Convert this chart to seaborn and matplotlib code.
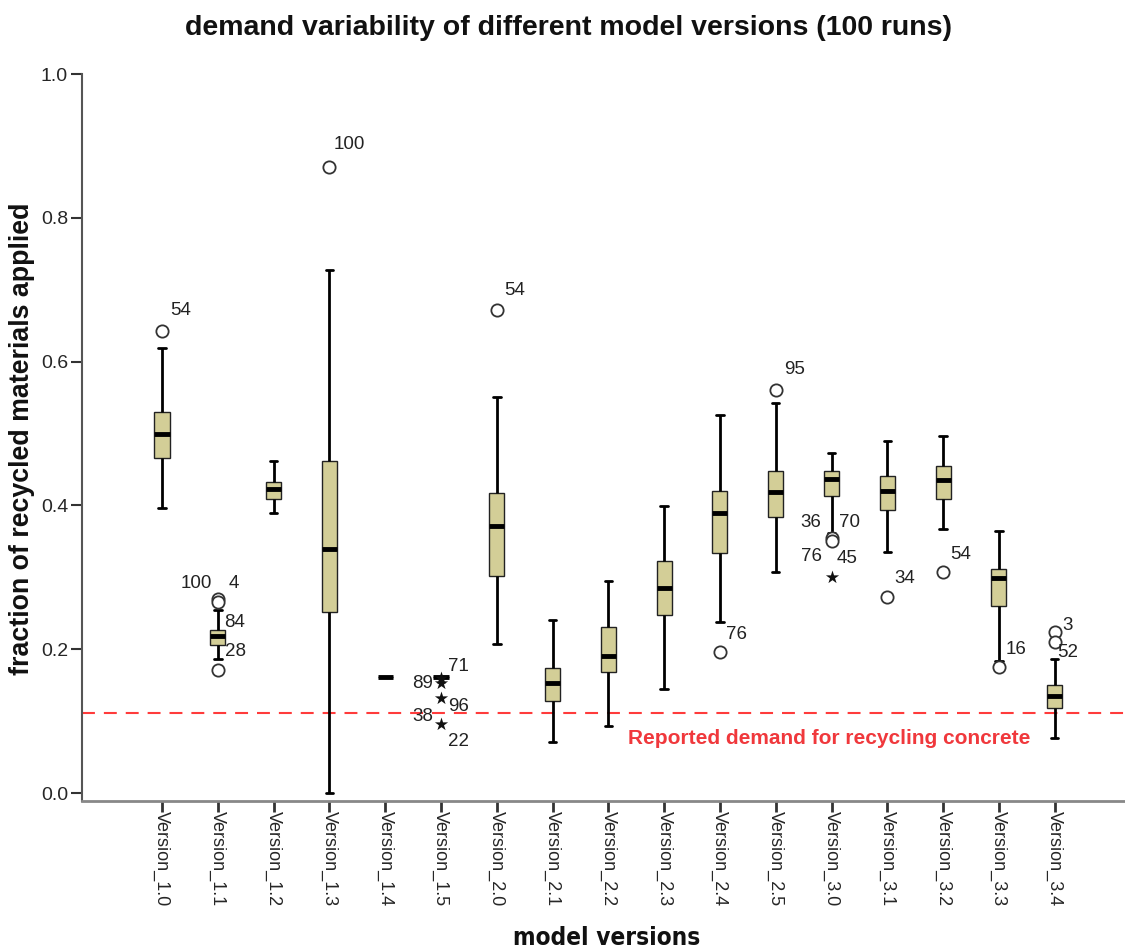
import numpy as np
import pandas as pd
import matplotlib
matplotlib.use("Agg")
import matplotlib.pyplot as plt
import seaborn as sns

# ---------------- data ----------------
versions = ["Version_1.0", "Version_1.1", "Version_1.2", "Version_1.3", "Version_1.4",
            "Version_1.5", "Version_2.0", "Version_2.1", "Version_2.2", "Version_2.3",
            "Version_2.4", "Version_2.5", "Version_3.0", "Version_3.1", "Version_3.2",
            "Version_3.3", "Version_3.4"]
whisker_low  = [0.396, 0.186, 0.389, 0.000, 0.161, 0.161, 0.207, 0.071, 0.093, 0.145,
                0.238, 0.307, 0.362, 0.335, 0.367, 0.184, 0.076]
q1           = [0.466, 0.206, 0.409, 0.252, 0.161, 0.161, 0.302, 0.128, 0.168, 0.248,
                0.334, 0.384, 0.413, 0.394, 0.409, 0.260, 0.118]
median       = [0.499, 0.218, 0.423, 0.339, 0.161, 0.161, 0.371, 0.153, 0.191, 0.285,
                0.389, 0.418, 0.437, 0.420, 0.435, 0.299, 0.135]
q3           = [0.530, 0.227, 0.433, 0.462, 0.161, 0.161, 0.417, 0.174, 0.231, 0.323,
                0.420, 0.448, 0.448, 0.441, 0.455, 0.312, 0.150]
whisker_high = [0.619, 0.255, 0.462, 0.727, 0.161, 0.161, 0.551, 0.241, 0.295, 0.399,
                0.526, 0.543, 0.473, 0.490, 0.497, 0.364, 0.186]

# outliers: "o" = outlier, "*" = extreme value
outlier_version = ["Version_1.0", "Version_1.1", "Version_1.1", "Version_1.1", "Version_1.3",
                   "Version_1.5", "Version_1.5", "Version_1.5", "Version_1.5",
                   "Version_2.0", "Version_2.4", "Version_2.5",
                   "Version_3.0", "Version_3.0", "Version_3.0",
                   "Version_3.1", "Version_3.2", "Version_3.3", "Version_3.4", "Version_3.4"]
outlier_value = [0.643, 0.270, 0.265, 0.171, 0.871,
                 0.160, 0.153, 0.132, 0.096,
                 0.672, 0.196, 0.561,
                 0.355, 0.350, 0.300,
                 0.273, 0.307, 0.175, 0.224, 0.210]
outlier_kind = ["o", "o", "o", "o", "o",
                "*", "*", "*", "*",
                "o", "o", "o",
                "o", "o", "*",
                "o", "o", "o", "o", "o"]

# case labels of the outliers
label_version = ["Version_1.0", "Version_1.1", "Version_1.1", "Version_1.1", "Version_1.1",
                 "Version_1.3", "Version_1.5", "Version_1.5", "Version_1.5", "Version_1.5",
                 "Version_1.5", "Version_2.0", "Version_2.4", "Version_2.5",
                 "Version_3.0", "Version_3.0", "Version_3.0", "Version_3.0",
                 "Version_3.1", "Version_3.2", "Version_3.3", "Version_3.4", "Version_3.4"]
label_value = [0.643, 0.270, 0.270, 0.265, 0.171,
               0.871, 0.160, 0.153, 0.132, 0.096,
               0.096, 0.672, 0.196, 0.561,
               0.355, 0.355, 0.300, 0.300,
               0.273, 0.307, 0.175, 0.224, 0.210]
label_text = ["54", "100", "4", "84", "28",
              "100", "71", "89", "96", "38",
              "22", "54", "76", "95",
              "36", "70", "76", "45",
              "34", "54", "16", "3", "52"]
# label placement (pixel offsets from the marker, alignment)
label_dx = [8, -6, 11, 6, 7,
            4, 7, -8, 7, -8,
            7, 7, 6, 8,
            -10, 7, -10, 5,
            7, 7, 7, 8, 3]
label_dy = [20, 15, 15, -20, 19,
            22, 11, 0, -8, 7,
            -18, 19, 18, 20,
            15, 15, 21, 19,
            18, 18, 18, 6, -10]
label_ha = ["left", "right", "left", "left", "left",
            "left", "left", "right", "left", "right",
            "left", "left", "left", "left",
            "right", "left", "right", "left",
            "left", "left", "left", "left", "left"]

reference_demand = 0.111
reference_text = "Reported demand for recycling concrete"

# ---------------- long-form table of the box summaries ----------------
rows = []
for v, a, b, c, d, e in zip(versions, whisker_low, q1, median, q3, whisker_high):
    for val in (a, b, c, d, e):
        rows.append({"version": v, "value": val})
df = pd.DataFrame(rows)

sns.set_theme(style="white")
plt.rcParams["font.family"] = ["Liberation Sans", "DejaVu Sans"]

W, H = 1125, 951
fig = plt.figure(figsize=(W / 100, H / 100), dpi=100)
ax = fig.add_axes([82 / W, 1 - 801 / H, 1 - 82 / W, (801 - 74) / H])

box_color = "#D3CE97"
sns.boxplot(data=df, x="version", y="value", order=versions, whis=(0, 100),
            width=0.27, color=box_color, saturation=1, linecolor="black",
            linewidth=1.0, showfliers=False,
            boxprops=dict(edgecolor="#222222", linewidth=1.0),
            medianprops=dict(color="black", linewidth=3.5),
            whiskerprops=dict(color="black", linewidth=2.0),
            capprops=dict(color="black", linewidth=2.0),
            ax=ax)

# outliers
pos = {v: i for i, v in enumerate(versions)}
ox = np.array([pos[v] for v in outlier_version], dtype=float)
oy = np.array(outlier_value)
kinds = np.array(outlier_kind)
m = kinds == "o"
ax.scatter(ox[m], oy[m], s=78, marker="o", facecolors="white", edgecolors="#333333",
           linewidths=1.3, zorder=5)
ax.scatter(ox[~m], oy[~m], s=100, marker="*", color="#111111", linewidths=0, zorder=5)

for v, val, t, dx, dy, ha in zip(label_version, label_value, label_text,
                                 label_dx, label_dy, label_ha):
    ax.annotate(t, (pos[v], val), xytext=(dx, dy), textcoords="offset pixels",
                ha=ha, va="center", fontsize=13.5, color="#222222", zorder=6)

# reference line
ax.axhline(reference_demand, color="#FF3B3B", linewidth=1.5,
           linestyle=(0, (6.2, 4.3)), zorder=1)
ax.text(11.95, 0.076, reference_text, color="#F0383C", fontsize=15,
        fontweight="bold", ha="center", va="center")

# axes styling
ax.set_xlim(-1.434, 17.26)
ax.set_ylim(-0.0111, 1.0)
ax.set_yticks([0.0, 0.2, 0.4, 0.6, 0.8, 1.0])
ax.set_yticklabels(["0.0", "0.2", "0.4", "0.6", "0.8", "1.0"])
ax.set_xticks(range(len(versions)))
ax.set_xticklabels(versions, rotation=-90, va="top", ha="center")
ax.tick_params(axis="y", direction="out", length=8, width=1.5, color="#333333",
               labelsize=14, pad=2, left=True)
ax.tick_params(axis="x", direction="out", length=8, width=2.0, color="#333333",
               labelsize=13, pad=-1, bottom=True)
for s in ["top", "right"]:
    ax.spines[s].set_visible(False)
ax.spines["left"].set_color("#555555")
ax.spines["left"].set_linewidth(1.5)
ax.spines["bottom"].set_color("#888888")
ax.spines["bottom"].set_linewidth(2.0)
ax.set_xlabel("")
ax.set_ylabel("")

fig.text(568 / W, 1 - 28 / H, "demand variability of different model versions (100 runs)",
         ha="center", va="center", fontsize=20.5, fontweight="bold", color="#111111")
fig.text(22 / W, 1 - 439 / H, "fraction of recycled materials applied", rotation=90,
         ha="center", va="center", fontsize=19.3, fontweight="bold", color="#111111")
fig.text(607 / W, 1 - 938 / H, "model versions", ha="center", va="center",
         fontsize=17.5, fontweight="bold", color="#111111",
         family=["DejaVu Sans"], fontstretch="condensed")

fig.savefig("out.png", dpi=100)
